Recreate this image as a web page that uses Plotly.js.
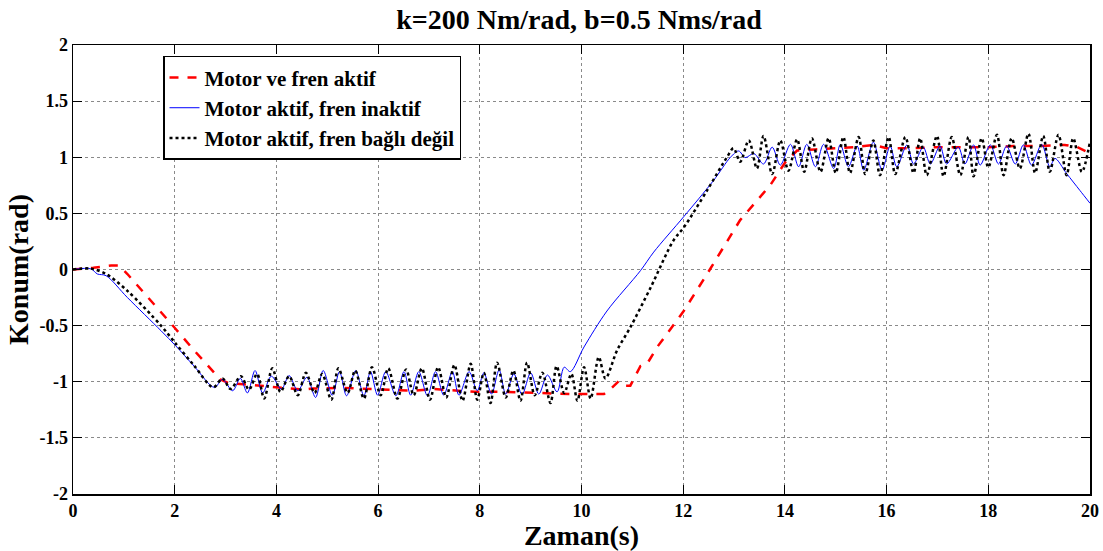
<!DOCTYPE html>
<html>
<head>
<meta charset="utf-8">
<script src="https://cdn.plot.ly/plotly-3.0.1.min.js"></script>
<style>html,body{margin:0;padding:0;background:#fff;}#chart{width:1103px;height:551px;}</style>
</head>
<body>
<div id="chart"></div>
<script>
// Motor ve fren aktif (red dashed)
var redT = [0,0.4,0.75,0.9,1.07,1.6,2.02,2.38,2.9,3.05,3.5,4.15,4.55,4.7,5.3,5.8,6.3,6.67,7.1,7.5,7.9,8.5,9.1,9.8,10.44,10.57,10.73,10.86,10.96,11.16,11.29,11.49,12.01,12.47,13.12,13.71,14.0,14.24,14.6,15.0,15.4,15.74,16.0,16.5,17.0,17.5,18.0,18.5,19.0,19.5,19.75,20.0];
var redV = [0,0.015,0.035,0.035,-0.04,-0.31,-0.53,-0.72,-0.98,-1.01,-1.03,-1.055,-1.07,-1.06,-1.055,-1.065,-1.07,-1.08,-1.065,-1.08,-1.09,-1.09,-1.10,-1.11,-1.11,-1.065,-0.995,-1.035,-1.035,-0.86,-0.84,-0.69,-0.37,-0.04,0.44,0.75,0.95,1.06,1.07,1.08,1.09,1.11,1.08,1.08,1.09,1.09,1.09,1.10,1.10,1.11,1.09,1.035];

// Motor aktif, fren inaktif (blue solid)
var blueT = [0,0.35,0.48,0.65,1.07,1.73,2.02,2.38,2.78,2.94,3.14,3.29,3.43,3.58,3.73,3.90,4.10,4.25,4.42,4.60,4.77,4.92,5.10,5.24,5.38,5.56,5.72,5.85,5.99,6.15,6.35,6.51,6.64,6.80,6.97,7.13,7.29,7.46,7.59,7.79,7.95,8.08,8.23,8.38,8.51,8.67,8.83,9.00,9.16,9.33,9.52,9.66,9.78,10.05,10.5,11.16,11.42,12.01,12.6,12.93,13.09,13.22,13.39,13.58,13.75,13.91,14.11,14.27,14.43,14.60,14.76,14.96,15.09,15.25,15.42,15.55,15.74,15.91,16.07,16.2,16.40,16.53,16.72,16.86,17.05,17.18,17.41,17.54,17.71,17.84,18.04,18.20,18.36,18.53,18.69,18.85,19.05,19.21,19.31,19.54,19.80,20.0];
var blueV = [0,0.006,-0.04,-0.055,-0.25,-0.545,-0.68,-0.86,-1.05,-0.98,-1.08,-0.97,-1.10,-0.90,-1.10,-0.95,-1.065,-0.945,-1.08,-0.96,-1.14,-0.90,-1.12,-0.91,-1.125,-0.90,-1.125,-0.91,-1.12,-0.91,-1.125,-0.91,-1.12,-0.91,-1.125,-0.91,-1.12,-0.91,-1.12,-0.91,-1.08,-0.92,-1.11,-0.895,-1.11,-0.93,-1.115,-0.92,-1.11,-0.94,-1.09,-0.87,-0.91,-0.69,-0.37,-0.01,0.155,0.47,0.795,1.0,1.056,0.997,1.033,0.94,1.09,0.93,1.115,0.915,1.115,0.915,1.115,0.90,1.115,0.915,1.10,0.885,1.135,0.885,1.10,0.915,1.11,0.94,1.09,0.94,1.10,0.94,1.09,0.94,1.11,0.93,1.11,0.94,1.10,0.94,1.11,0.93,1.115,0.915,0.99,0.855,0.705,0.59];

// Motor aktif, fren bağlı değil (black dotted)
var blackT = [0,0.35,0.65,1.07,1.73,2.02,2.38,2.76,2.94,3.10,3.30,3.46,3.62,3.76,3.92,4.08,4.25,4.42,4.58,4.75,4.90,5.08,5.22,5.40,5.55,5.72,5.88,6.05,6.20,6.38,6.55,6.70,6.86,7.02,7.18,7.34,7.50,7.66,7.82,7.95,8.08,8.21,8.34,8.51,8.66,8.80,8.93,9.08,9.23,9.39,9.51,9.66,9.80,9.92,10.05,10.18,10.34,10.47,10.70,10.96,11.36,11.81,12.02,12.47,12.86,12.99,13.12,13.29,13.45,13.58,13.75,13.91,14.07,14.24,14.38,14.53,14.70,14.86,15.0,15.15,15.28,15.45,15.58,15.74,15.87,16.04,16.17,16.37,16.53,16.66,16.79,16.99,17.12,17.28,17.45,17.61,17.71,17.87,18.0,18.17,18.30,18.46,18.62,18.79,18.92,19.08,19.21,19.38,19.54,19.67,19.84,20.0];
var blackV = [0,0.008,-0.04,-0.19,-0.5,-0.66,-0.855,-1.05,-0.97,-1.065,-0.95,-1.07,-0.93,-1.15,-0.88,-1.09,-0.95,-1.12,-0.92,-1.10,-0.93,-1.16,-0.88,-1.10,-0.90,-1.15,-0.87,-1.12,-0.88,-1.15,-0.89,-1.12,-0.88,-1.16,-0.87,-1.14,-0.85,-1.17,-0.84,-1.16,-0.92,-1.19,-0.83,-1.14,-0.90,-1.17,-0.83,-1.12,-0.92,-1.19,-0.86,-1.10,-0.93,-1.17,-0.87,-1.15,-0.78,-0.97,-0.72,-0.515,-0.16,0.26,0.38,0.705,1.0,1.08,0.96,1.15,0.90,1.19,0.85,1.15,0.88,1.16,0.87,1.17,0.87,1.17,0.86,1.18,0.86,1.18,0.85,1.15,0.84,1.18,0.85,1.18,0.86,1.17,0.84,1.19,0.83,1.18,0.84,1.18,0.83,1.17,0.91,1.20,0.84,1.17,0.90,1.21,0.86,1.19,0.87,1.20,0.84,1.17,0.87,1.14];

var xTicks = [0,2,4,6,8,10,12,14,16,18,20];
var xTickText = ['<b>0</b>','<b>2</b>','<b>4</b>','<b>6</b>','<b>8</b>','<b>10</b>','<b>12</b>','<b>14</b>','<b>16</b>','<b>18</b>','<b>20</b>'];
var yTicks = [-2,-1.5,-1,-0.5,0,0.5,1,1.5,2];
var yTickText = ['<b>-2</b>','<b>-1.5</b>','<b>-1</b>','<b>-0.5</b>','<b>0</b>','<b>0.5</b>','<b>1</b>','<b>1.5</b>','<b>2</b>'];

var names = ['<b>Motor ve fren aktif</b>','<b>Motor aktif, fren inaktif</b>','<b>Motor aktif, fren bağlı değil</b>'];

var serif = '"Liberation Serif", "Times New Roman", Times, serif';

var traces = [
  {x: redT, y: redV, name: names[0], mode: 'lines', line: {color: '#ff0000', width: 2.5, dash: 'dash'}},
  {x: blueT, y: blueV, name: names[1], mode: 'lines', line: {color: '#0000ff', width: 1, shape: 'spline', smoothing: 0.9}},
  {x: blackT, y: blackV, name: names[2], mode: 'lines', line: {color: '#000000', width: 2.5, dash: 'dot', shape: 'spline', smoothing: 0.9}}
];

var axisCommon = {
  showgrid: true, gridcolor: '#8a8a8a', griddash: 'dot', gridwidth: 1,
  zeroline: false, showline: true, linecolor: '#000', linewidth: 1.5, mirror: 'ticks',
  ticks: 'inside', ticklen: 9, tickcolor: '#000', tickwidth: 1,
  tickfont: {family: serif, size: 18, color: '#000'}
};

var layout = {
  width: 1103, height: 551,
  paper_bgcolor: '#fff', plot_bgcolor: '#fff',
  font: {family: serif},
  margin: {l: 73, r: 13, t: 45, b: 57},
  title: {text: '<b>k=200 Nm/rad, b=0.5 Nms/rad</b>', font: {family: serif, size: 28, color: '#000'}, x: 0.525, xanchor: 'center', y: 0.966, yanchor: 'middle'},
  xaxis: Object.assign({}, axisCommon, {
    range: [0, 20], tickvals: xTicks, ticktext: xTickText, ticklabelstandoff: 0,
    title: {text: '<b>Zaman(s)</b>', font: {family: serif, size: 28, color: '#000'}, standoff: 4}
  }),
  yaxis: Object.assign({}, axisCommon, {
    range: [-2, 2], tickvals: yTicks, ticktext: yTickText,
    title: {text: '<b>Konum(rad)</b>', font: {family: serif, size: 28, color: '#000'}, standoff: 2}
  }),
  showlegend: true,
  legend: {
    x: 0.0885, y: 0.976, xanchor: 'left', yanchor: 'top',
    bgcolor: '#fff', bordercolor: '#000', borderwidth: 1.5,
    font: {family: serif, size: 21, color: '#000'},
    tracegroupgap: 0, itemwidth: 30
  }
};

Plotly.newPlot('chart', traces, layout, {staticPlot: true, displayModeBar: false});
</script>
</body>
</html>
